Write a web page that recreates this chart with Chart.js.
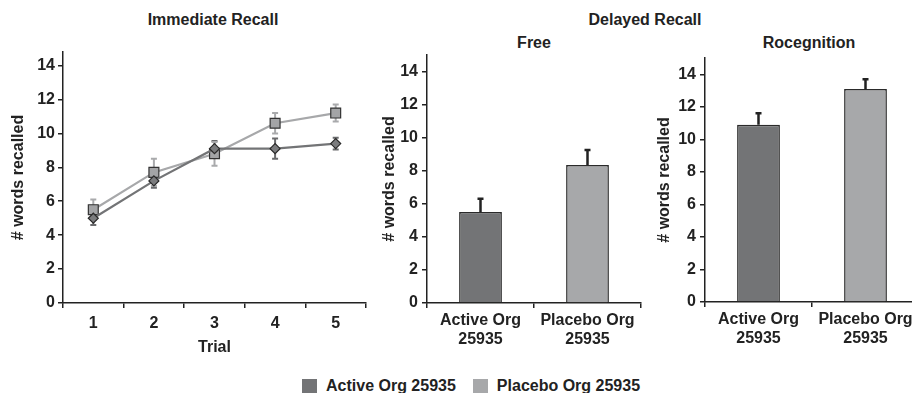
<!DOCTYPE html>
<html>
<head>
<meta charset="utf-8">
<script src="https://cdn.jsdelivr.net/npm/chart.js@4.4.1/dist/chart.umd.min.js"></script>
<style>
  body { margin: 0; background: #fff; width: 912px; height: 393px; overflow: hidden; position: relative;
         font-family: "Liberation Sans", Arial, sans-serif; font-weight: bold; color: #222; }
  canvas { position: absolute; top: 0; }
  .txt { position: absolute; font-size: 16px; white-space: nowrap; transform: translate(-50%, -50%); }
  .legend { position: absolute; top: 377px; left: 302px; display: flex; align-items: center; font-size: 16px; }
  .legend span.box { display: inline-block; width: 15px; height: 15px; margin-right: 9px; }
</style>
</head>
<body>
<div class="txt" style="left:213px; top:20px;">Immediate Recall</div>
<div class="txt" style="left:645px; top:20px;">Delayed Recall</div>
<div class="txt" style="left:534px; top:43px;">Free</div>
<div class="txt" style="left:809px; top:43px;">Rocegnition</div>

<canvas id="immediate" width="375" height="360" style="left:0px;"></canvas>
<canvas id="free" width="270" height="360" style="left:375px;"></canvas>
<canvas id="recog" width="280" height="360" style="left:645px;"></canvas>

<div class="legend" id="legend"></div>

<script>
// data
const trials = ['1', '2', '3', '4', '5'];
const activeImmediate = [5.0, 7.2, 9.1, 9.1, 9.4];
const activeImmediateErr = [0.4, 0.4, 0.45, 0.6, 0.35];
const placeboImmediate = [5.5, 7.7, 8.8, 10.6, 11.2];
const placeboImmediateErr = [0.6, 0.8, 0.7, 0.6, 0.5];

const groups = [['Active Org', '25935'], ['Placebo Org', '25935']];
const freeRecall = [5.5, 8.35];
const freeRecallErr = [0.8, 0.9];
const recognition = [10.9, 13.1];
const recognitionErr = [0.7, 0.6];

const seriesNames = ['Active Org 25935', 'Placebo Org 25935'];
const seriesColors = ['#737476', '#a7a8aa'];

Chart.defaults.font.family = '"Liberation Sans", Arial, sans-serif';
Chart.defaults.font.weight = 'bold';
Chart.defaults.font.size = 16;
Chart.defaults.color = '#222';

// draws error bars from dataset.errors through the chart's y scale
const errorBars = {
  id: 'errorBars',
  afterDatasetsDraw(chart, args, opts) {
    const ctx = chart.ctx;
    const yScale = chart.scales.y;
    chart.data.datasets.forEach((ds, di) => {
      if (!ds.errors) return;
      const meta = chart.getDatasetMeta(di);
      meta.data.forEach((el, i) => {
        const v = ds.data[i], e = ds.errors[i];
        const top = yScale.getPixelForValue(v + e);
        const bottom = yScale.getPixelForValue(opts.both ? v - e : v);
        const x = el.x;
        ctx.save();
        ctx.strokeStyle = Array.isArray(ds.errorColor) ? ds.errorColor[i] : ds.errorColor;
        ctx.lineWidth = opts.width || 2;
        ctx.beginPath();
        ctx.moveTo(x, top);
        ctx.lineTo(x, bottom);
        ctx.moveTo(x - opts.cap, top);
        ctx.lineTo(x + opts.cap, top);
        if (opts.both) {
          ctx.moveTo(x - opts.cap, bottom);
          ctx.lineTo(x + opts.cap, bottom);
        }
        ctx.stroke();
        ctx.restore();
      });
    });
  }
};

function yAxis(max, width, titlePad, labelPad) {
  return {
    min: 0,
    max: max,
    afterFit: s => { s.width = width; },
    ticks: { stepSize: 2, includeBounds: false, padding: labelPad },
    grid: { drawOnChartArea: false, tickLength: 5, color: '#222', lineWidth: 1.5 },
    border: { display: true, color: '#222', width: 1.5 },
    title: { display: true, text: '# words recalled', padding: { top: titlePad, bottom: 0 } }
  };
}

function xAxis(height, labelPad) {
  return {
    offset: true,
    afterFit: s => { s.height = height; },
    ticks: { padding: labelPad, maxRotation: 0 },
    grid: { offset: true, drawOnChartArea: false, tickLength: 5, color: '#222', lineWidth: 1.5 },
    border: { display: true, color: '#222', width: 1.5 }
  };
}

// Immediate recall line chart
const xImm = xAxis(57, 6);
xImm.title = { display: true, text: 'Trial', padding: { top: 4, bottom: 3 } };
new Chart(document.getElementById('immediate'), {
  type: 'line',
  data: {
    labels: trials,
    datasets: [{
      label: seriesNames[0],
      data: activeImmediate,
      errors: activeImmediateErr,
      errorColor: '#6a6b6d',
      borderColor: seriesColors[0],
      borderWidth: 2.2,
      pointStyle: 'rectRot',
      pointRadius: 5,
      pointBackgroundColor: '#7b7c7e',
      pointBorderColor: '#2a2a2a',
      pointBorderWidth: 1.2
    }, {
      label: seriesNames[1],
      data: placeboImmediate,
      errors: placeboImmediateErr,
      errorColor: '#a9aaac',
      borderColor: seriesColors[1],
      borderWidth: 2.2,
      pointStyle: 'rect',
      pointRadius: 7,
      pointBackgroundColor: '#a3a4a6',
      pointBorderColor: '#333',
      pointBorderWidth: 1.2
    }]
  },
  options: {
    responsive: false,
    animation: false,
    layout: { padding: { top: 52, right: 9, left: 0, bottom: 0 } },
    plugins: { legend: { display: false }, tooltip: { enabled: false },
               errorBars: { both: true, cap: 3, width: 2 } },
    scales: { x: xImm, y: yAxis(14.8, 63, 9.4, 3) }
  },
  plugins: [{
    id: 'errorsBehind',
    beforeDatasetsDraw(chart) { errorBars.afterDatasetsDraw(chart, {}, chart.options.plugins.errorBars); }
  }]
});

function barChart(id, values, errs, max, yWidth, titlePad, padTop, padRight, xHeight) {
  return new Chart(document.getElementById(id), {
    type: 'bar',
    data: {
      labels: groups,
      datasets: [{
        data: values,
        errors: errs,
        errorColor: '#222',
        backgroundColor: seriesColors,
        borderColor: '#2a2a2a',
        borderWidth: 1.5,
        barPercentage: 0.4,
        categoryPercentage: 1
      }]
    },
    options: {
      responsive: false,
      animation: false,
      layout: { padding: { top: padTop, right: padRight, left: 0, bottom: 0 } },
      plugins: { legend: { display: false }, tooltip: { enabled: false },
                 errorBars: { both: false, cap: 3, width: 2.5 } },
      scales: { x: xAxis(xHeight, 3), y: yAxis(max, yWidth, titlePad, 4) }
    },
    plugins: [errorBars]
  });
}

barChart('free', freeRecall, freeRecallErr, 15, 52, 5.4, 55, 4, 57);
barChart('recog', recognition, recognitionErr, 15, 60, 10.4, 58, 6, 58);

// shared legend
document.getElementById('legend').innerHTML = seriesNames.map((n, i) =>
  `<span class="box" style="background:${seriesColors[i]}"></span><span style="margin-right:17px">${n}</span>`
).join('');
</script>
</body>
</html>
